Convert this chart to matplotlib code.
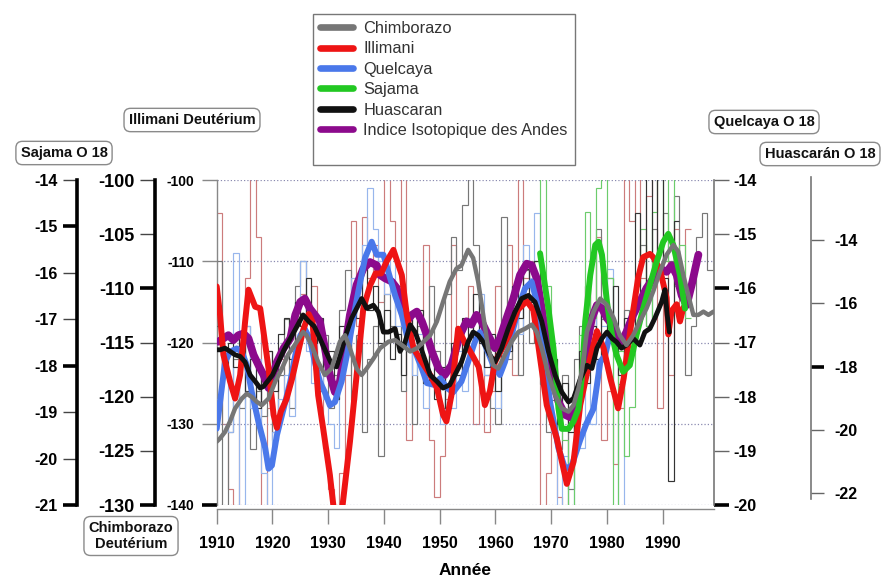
import numpy as np
import matplotlib
matplotlib.use('Agg')
import matplotlib.pyplot as plt
from matplotlib.lines import Line2D

plt.rcParams['font.family'] = ['Liberation Sans', 'DejaVu Sans']
plt.rcParams['axes.unicode_minus'] = False

# ------------------------------------------------------------------ data
# Smoothed records (thick lines), each in the units of its own axis
chim_years = [1910, 1910.6, 1911.5, 1912.4, 1913.3, 1914.5, 1915.4, 1916.3, 1917.2, 1918.1,
              1919.3, 1920.5, 1921.7, 1922.8, 1924, 1925.5, 1926.1, 1927, 1928.2, 1929.4,
              1930.6, 1932.1, 1933, 1933.9, 1935.1, 1936, 1936.9, 1938.1, 1939.3, 1940.8,
              1942, 1943.2, 1944.7, 1945.9, 1947.1, 1948.3, 1949.5, 1950.6, 1951.8, 1953,
              1953.9, 1955.1, 1956, 1956.9, 1957.8, 1958.7, 1959.6, 1960.5, 1961.7, 1962.9,
              1964.1, 1965.3, 1966.5, 1967.4, 1968.3, 1969.5, 1970.7, 1971.9, 1973.1, 1974,
              1974.9, 1975.5, 1976.4, 1977.6, 1978.8, 1980, 1981.2, 1982.3, 1983.5, 1984.7,
              1985.9, 1987.1, 1988.3, 1989.5, 1990.7, 1991.9, 1992.8, 1993.7, 1994.6, 1995.5,
              1996.4, 1997.3, 1998.2, 1999.1]
chim_vals = [-124.15, -123.85, -123.25, -122.28, -121.08, -120.18, -119.73, -120.03, -120.48, -120.78,
             -120.18, -118.60, -117.40, -116.13, -115.23, -114.03, -114.33, -115.23, -116.80, -118.00,
             -117.40, -114.93, -114.33, -115.53, -117.40, -118.00, -117.40, -116.50, -115.53, -114.93,
             -114.78, -115.23, -115.83, -115.53, -114.93, -114.33, -113.05, -111.25, -109.38, -108.18,
             -107.88, -106.45, -107.20, -109.38, -112.45, -115.53, -117.10, -117.40, -116.13, -114.93,
             -114.03, -113.73, -113.35, -114.03, -115.53, -118.00, -119.88, -121.08, -121.38, -120.78,
             -119.20, -117.63, -114.03, -112.15, -110.95, -111.55, -112.75, -114.33, -115.23, -114.33,
             -113.05, -111.85, -110.28, -108.48, -106.90, -106.00, -106.60, -108.78, -110.65, -112.45,
             -112.45, -112.15, -112.45, -112.15]

ill_years = [1910, 1910.6, 1911.2, 1912.4, 1913.3, 1914.2, 1915.1, 1915.7, 1916.9, 1917.8,
             1918.4, 1919.3, 1920.2, 1920.8, 1921.5, 1922.5, 1923.5, 1924.5, 1925.5, 1926.5,
             1927.2, 1928.2, 1929.1, 1930.3, 1931, 1932.5, 1933.9, 1935.1, 1936.3, 1937.5,
             1938.5, 1939.5, 1940.5, 1941.7, 1943.2, 1944.1, 1945.3, 1946.8, 1948.3, 1949.5,
             1950.6, 1951.2, 1952.1, 1953.3, 1954.5, 1955.8, 1957, 1958.1, 1959, 1959.9,
             1961, 1962.5, 1964, 1965.6, 1966.8, 1968, 1969.2, 1971, 1972.8, 1974,
             1975.2, 1977, 1978.2, 1979.4, 1980.6, 1982, 1983, 1984.5, 1985.6, 1986.5,
             1987.7, 1988.3, 1989.5, 1990.7, 1991, 1991.6, 1992.5, 1993.1, 1993.7]
ill_vals = [-113.1, -116.6, -121.5, -124.8, -126.9, -124.0, -117.4, -113.5, -115.6, -115.8,
            -118.7, -123.2, -128.9, -130.5, -128.5, -127.0, -124.5, -121.5, -118.5, -116.5,
            -117.5, -126.5, -130.6, -136.3, -140.5, -140.5, -132.2, -124.0, -115.8, -113.0,
            -111.5, -111.5, -110.0, -108.6, -111.7, -116.6, -120.7, -122.4, -124.0, -125.6,
            -128.9, -129.7, -126.5, -118.3, -120.0, -121.5, -123.0, -127.7, -126.0, -122.4,
            -121.0, -119.0, -116.0, -114.9, -116.0, -121.9, -127.7, -131.8, -137.4, -134.7,
            -127.7, -121.9, -118.6, -120.7, -124.4, -128.1, -124.4, -117.0, -112.0, -109.5,
            -109.1, -109.5, -111.0, -114.5, -119.0, -116.1, -115.3, -117.4, -115.7]

quel_years = [1910, 1910.6, 1911.5, 1912.4, 1913.6, 1914.5, 1915.4, 1916.3, 1917.5, 1918.7,
              1919.3, 1919.9, 1920.8, 1922, 1923.2, 1924.1, 1925, 1925.8, 1926.7, 1927.6,
              1928.5, 1929.4, 1930.3, 1931.2, 1932.4, 1933.6, 1934.5, 1935.4, 1936.6, 1937.8,
              1938.7, 1939.9, 1940.8, 1942, 1943.2, 1944.4, 1945.6, 1946.8, 1947.7, 1948.9,
              1950.1, 1951.3, 1952.4, 1953.9, 1955.1, 1956.3, 1957.2, 1958.4, 1959.6, 1960.8,
              1961.7, 1962.9, 1964.1, 1965.3, 1966.5, 1967.4, 1968.6, 1969.8, 1971.3, 1972.5,
              1973.7, 1975.2, 1976.3, 1977.6, 1978.8, 1979.7, 1980.6]
quel_vals = [-18.59, -18.10, -17.36, -17.17, -17.11, -17.17, -17.42, -17.92, -18.47, -18.95,
             -19.33, -19.27, -18.71, -18.22, -17.72, -17.23, -16.87, -16.75, -16.93, -17.36,
             -17.72, -17.92, -18.16, -18.10, -17.72, -17.11, -16.55, -16.06, -15.44, -15.14,
             -15.38, -15.38, -15.70, -16.13, -16.49, -16.99, -17.17, -17.48, -17.75, -17.78,
             -17.66, -17.84, -17.92, -17.72, -17.36, -16.99, -16.81, -17.11, -17.42, -17.60,
             -17.36, -16.87, -16.37, -16.00, -15.88, -16.25, -17.11, -18.10, -18.95, -19.33,
             -19.27, -18.80, -18.50, -18.22, -17.36, -17.23, -16.81]

saj_years = [1968, 1968.6, 1969.5, 1970.4, 1971.3, 1971.9, 1973.1, 1974, 1974.9, 1975.6,
             1976.1, 1977, 1977.9, 1978.5, 1979.1, 1980, 1980.9, 1981.7, 1982.9, 1984.1,
             1985.3, 1986.5, 1987.7, 1988.9, 1990.1, 1991, 1991.9, 1993.1, 1994]
saj_vals = [-15.58, -16.05, -16.77, -17.62, -18.92, -19.36, -19.36, -19.20, -18.92, -18.11,
            -17.05, -16.05, -15.40, -15.33, -15.61, -16.63, -17.34, -17.76, -18.13, -17.99,
            -17.34, -16.77, -16.26, -15.77, -15.33, -15.16, -15.40, -16.05, -16.77]

hua_years = [1910, 1910.6, 1911.5, 1912.4, 1913.3, 1914.2, 1915.1, 1916, 1916.9, 1917.8,
             1918.4, 1920, 1922, 1924, 1925.5, 1926.5, 1927.5, 1928.5, 1929.5, 1930.5,
             1931.5, 1932.4, 1933.2, 1934.2, 1935.1, 1936, 1936.9, 1938.1, 1939, 1939.9,
             1940.8, 1942, 1942.9, 1943.8, 1944.7, 1945.6, 1946.8, 1948.3, 1949.5, 1950.6,
             1951.8, 1953, 1953.9, 1955.1, 1956, 1956.9, 1957.8, 1959, 1959.9, 1961.1,
             1962.3, 1963.5, 1964.7, 1965.9, 1967.1, 1968.3, 1969.5, 1970.7, 1971.9, 1973.1,
             1974, 1975.2, 1976.4, 1977.3, 1978.2, 1979.1, 1980, 1980.9, 1981.7, 1982.6,
             1983.5, 1984.7, 1985.9, 1986.8, 1987.7, 1988.6, 1989.8, 1990.4, 1990.8, 1991.2]
hua_vals = [-17.47, -17.47, -17.42, -17.52, -17.63, -17.68, -17.86, -18.27, -18.47, -18.68,
            -18.63, -18.27, -17.50, -16.86, -16.37, -16.57, -16.73, -17.11, -17.50, -17.88,
            -18.01, -17.50, -16.98, -16.47, -16.16, -15.85, -16.16, -16.06, -16.27, -16.91,
            -16.91, -16.80, -17.52, -17.22, -16.68, -16.91, -17.50, -18.27, -18.47, -18.68,
            -18.58, -18.17, -17.86, -17.22, -16.91, -17.01, -17.22, -17.63, -17.86, -17.42,
            -16.80, -16.27, -15.85, -15.75, -15.96, -16.57, -17.52, -18.27, -18.81, -19.12,
            -19.01, -18.40, -17.96, -18.06, -17.42, -17.11, -16.91, -17.11, -17.22, -17.42,
            -17.32, -17.11, -17.32, -16.91, -16.80, -16.47, -15.96, -15.57, -16.37, -16.91]

andes_years = [1910.3, 1911.2, 1912.1, 1913, 1913.9, 1914.8, 1915.7, 1916.6, 1917.5, 1918.4,
               1919.3, 1919.9, 1920.8, 1922, 1923.2, 1924.1, 1925, 1925.8, 1926.7, 1927.6,
               1928.5, 1929.4, 1930.3, 1931.2, 1932.1, 1933, 1933.9, 1935.1, 1936.3, 1937.5,
               1938.7, 1939.3, 1940.2, 1941.4, 1942.3, 1943.2, 1944.1, 1945, 1945.9, 1946.8,
               1947.7, 1948.6, 1949.8, 1950.9, 1952.1, 1953.3, 1953.9, 1954.8, 1955.7, 1956.6,
               1957.5, 1958.7, 1959.9, 1960.8, 1962, 1963.2, 1964.4, 1965.6, 1966.5, 1967.4,
               1968.3, 1969.2, 1970.1, 1971.3, 1972.5, 1973.7, 1974.9, 1975.6, 1976.3, 1977.3,
               1978.2, 1979.1, 1980, 1980.9, 1981.7, 1982.6, 1983.5, 1984.7, 1985.9, 1987.1,
               1988.3, 1989.5, 1990.7, 1991.6, 1992.5, 1993.4, 1994.3, 1995.2, 1996.1, 1996.4]
andes_vals = [-119.9, -119.5, -119.1, -119.7, -119.1, -118.9, -119.5, -121.5, -122.8, -124.0,
              -125.6, -124.4, -122.4, -120.7, -119.5, -116.6, -115.0, -114.6, -115.8, -116.6,
              -117.4, -120.7, -124.0, -126.1, -124.8, -120.7, -116.6, -112.9, -110.9, -110.1,
              -110.5, -111.7, -112.1, -112.5, -113.3, -115.8, -117.4, -116.6, -116.2, -117.4,
              -119.1, -121.1, -123.2, -124.0, -122.8, -119.9, -118.7, -117.4, -117.8, -116.6,
              -117.4, -119.1, -120.7, -119.5, -117.0, -114.6, -111.7, -110.3, -110.5, -112.1,
              -115.8, -119.9, -124.0, -127.3, -128.9, -129.3, -127.3, -124.5, -120.7, -117.0,
              -115.4, -115.8, -117.0, -117.8, -119.1, -119.9, -118.7, -116.6, -115.0, -113.3,
              -112.1, -110.9, -111.3, -110.5, -111.7, -114.2, -115.4, -112.9, -110.1, -109.2]

# Annual records (thin step lines): first year + one value per year
chim_ann_start = 1910
chim_ann = [-107.5, -131.0, -123.3, -116.5, -121.0, -113.5, -124.8, -119.5, -121.8, -115.8,
            -124.0, -118.0, -112.8, -121.0, -109.8, -107.5, -112.0, -115.8, -119.5, -114.3,
            -121.0, -118.0, -112.0, -108.3, -120.3, -114.3, -123.3, -116.5, -113.5, -125.5,
            -110.5, -113.5, -109.8, -119.5, -112.8, -122.5, -113.5, -118.0, -109.8, -115.8,
            -121.0, -110.5, -105.3, -108.3, -102.3, -99.3, -106.0, -113.5, -118.0, -121.0,
            -122.5, -103.4, -116.5, -112.0, -118.0, -108.3, -115.0, -109.0, -118.8, -123.3,
            -120.3, -124.8, -118.0, -128.5, -116.5, -113.5, -109.8, -115.0, -104.5, -112.8,
            -109.0, -115.8, -118.8, -112.0, -115.0, -109.8, -106.0, -113.5, -104.5, -108.3,
            -103.0, -107.5, -101.5, -109.8, -118.0, -113.5, -105.3, -103.0, -108.3]

ill_ann_start = 1910
ill_ann = [-104, -130, -138, -142, -121, -112, -98, -107, -142, -128,
           -131, -122, -126, -121, -118, -114, -117, -113, -125, -133,
           -138, -142, -136, -124, -105, -118, -104.5, -112, -108, -115,
           -97, -105, -110, -97, -132, -121, -117, -108, -132, -139,
           -134, -127, -108, -124, -118, -113, -130, -120, -131, -126,
           -113, -118, -108, -124, -97, -112, -110, -120, -142, -136,
           -131, -139, -142, -128, -133, -124, -113, -119, -107, -132,
           -126, -135, -128, -97, -105, -97, -112, -102, -97, -128,
           -110, -124, -106, -116, -106]

quel_ann_start = 1910
quel_ann = [-18.05, -17.60, -18.65, -15.35, -20.10, -16.70, -18.20, -17.30, -19.40, -20.10,
            -18.65, -18.05, -17.60, -18.35, -16.25, -15.50, -17.15, -17.75, -16.85, -18.05,
            -18.50, -18.95, -17.60, -16.70, -15.80, -15.95, -15.20, -14.15, -14.90, -15.50,
            -16.10, -15.35, -16.70, -16.55, -17.15, -17.60, -16.85, -18.20, -17.30, -17.90,
            -18.50, -17.45, -18.20, -17.15, -17.90, -16.55, -16.85, -16.10, -17.60, -17.00,
            -18.20, -17.15, -16.40, -15.95, -16.85, -15.20, -15.80, -14.60, -17.30, -18.05,
            -18.65, -20.10, -19.10, -20.15, -17.90, -18.95, -17.60, -18.50, -16.25, -16.70,
            -15.65, -18.05, -20.15, -16.85]

saj_ann_start = 1967
saj_ann = [-15.75, -13.48, -16.28, -17.85, -18.90, -19.60, -21.35, -18.55, -17.33, -14.70,
           -16.98, -14.18, -13.48, -16.10, -21.35, -17.68, -19.95, -18.90, -16.28, -15.05,
           -17.15, -14.70, -13.48, -15.75, -13.48, -16.28, -15.40, -16.98]

hua_ann_start = 1910
hua_ann = [-16.73, -18.27, -17.24, -18.01, -16.98, -18.78, -17.75, -19.30, -18.27, -17.50,
           -18.78, -16.98, -16.47, -17.75, -15.96, -16.73, -15.19, -17.24, -16.47, -18.27,
           -17.50, -19.04, -16.73, -17.50, -15.70, -16.47, -14.93, -16.21, -15.44, -17.24,
           -16.21, -17.75, -16.98, -18.27, -16.47, -17.50, -16.21, -18.53, -17.50, -19.04,
           -18.01, -19.30, -17.24, -18.27, -16.47, -17.50, -15.70, -17.24, -18.01, -16.98,
           -18.78, -16.73, -17.50, -15.44, -16.47, -14.93, -15.96, -14.67, -16.98, -18.27,
           -17.75, -19.81, -18.53, -20.07, -18.78, -17.50, -18.53, -16.73, -17.75, -16.21,
           -17.24, -15.44, -18.27, -16.47, -17.50, -13.13, -15.70, -11.33, -14.67, -11.33,
           -15.19, -21.61, -13.39]

x_ticks = [1910, 1920, 1930, 1940, 1950, 1960, 1970, 1980, 1990]
names = ['Chimborazo', 'Illimani', 'Quelcaya', 'Sajama', 'Huascaran',
         'Indice Isotopique des Andes']

# ------------------------------------------------------------------ figure
W, H = 883, 579
fig = plt.figure(figsize=(W / 100, H / 100), dpi=100)
PL, PR, PT, PB = 216.7, 714.0, 180.0, 505.0
ax = fig.add_axes([PL / W, 1 - PB / H, (PR - PL) / W, (PB - PT) / H])
XL = (1910, 1999.2)

LIM_I = (-140, -100)
LIM_C = (-130, -100)
LIM_Q = (-20, -14)
LIM_S = (-21, -14)
LIM_H = (-22.38, -12.10)


def twin(lim):
    t = ax.twinx()
    for s in t.spines.values():
        s.set_visible(False)
    t.tick_params(axis='y', which='both', left=False, right=False,
                  labelleft=False, labelright=False)
    t.set_ylim(*lim)
    return t


def stairs(a, start, vals, color):
    edges = np.arange(start, start + len(vals) + 1)
    a.stairs(vals, edges, baseline=None, color=color, lw=0.85)


# thin annual step lines
stairs(ax, ill_ann_start, ill_ann, '#cc7c7c')
t_c = twin(LIM_C)
stairs(t_c, chim_ann_start, chim_ann, '#777777')
t_q = twin(LIM_Q)
stairs(t_q, quel_ann_start, quel_ann, '#98b6ec')
t_s = twin(LIM_S)
stairs(t_s, saj_ann_start, saj_ann, '#6ccc6c')
t_h = twin(LIM_H)
stairs(t_h, hua_ann_start, hua_ann, '#333333')

# thick smoothed curves
k_m = twin(LIM_I)
l_andes, = k_m.plot(andes_years, andes_vals, color='#8c0a8c', lw=5.6,
                    solid_capstyle='round', label=names[5])
k_q = twin(LIM_Q)
l_quel, = k_q.plot(quel_years, quel_vals, color='#4a78ea', lw=4.3,
                   solid_capstyle='round', label=names[2])
k_i = twin(LIM_I)
l_ill, = k_i.plot(ill_years, ill_vals, color='#ee1414', lw=4.3,
                  solid_capstyle='round', label=names[1])
k_s = twin(LIM_S)
l_saj, = k_s.plot(saj_years, saj_vals, color='#22c822', lw=4.3,
                  solid_capstyle='round', label=names[3])
k_h = twin(LIM_H)
l_hua, = k_h.plot(hua_years, hua_vals, color='#111111', lw=3.5,
                  solid_capstyle='round', label=names[4])
k_c = twin(LIM_C)
l_chim, = k_c.plot(chim_years, chim_vals, color='#767676', lw=3.2,
                   solid_capstyle='round', label=names[0])

ax.set_xlim(*XL)
ax.set_ylim(*LIM_I)


def decorate(t, side, pos, thick, thin, size, spine_lw, spine_col,
             tlen, pad, bounds=None, thin_col='#666666'):
    sp = t.spines[side]
    sp.set_visible(True)
    sp.set_position(('axes', pos))
    sp.set_linewidth(spine_lw)
    sp.set_color(spine_col)
    if bounds is not None:
        sp.set_bounds(*bounds)
    t.yaxis.set_ticks_position(side)
    t.set_yticks(thick, labels=[f'{v:g}' for v in thick],
                 fontsize=size, fontweight='bold')
    t.set_yticks(thin, labels=[f'{v:g}' for v in thin], minor=True,
                 fontsize=size, fontweight='bold')
    t.tick_params(axis='y', which='major', direction='out', length=tlen,
                  width=2.6, color='black', pad=pad)
    t.tick_params(axis='y', which='minor', direction='out', length=tlen,
                  width=1.0, color=thin_col, pad=pad)


# Sajama O18 (outer left)
decorate(k_s, 'left', (77 - PL) / (PR - PL), [-15, -18, -21],
         [-14, -16, -17, -19, -20], 11.5, 2.6, 'black', 10, 4,
         thin_col='#444444')
# Chimborazo deuterium
decorate(k_c, 'left', (155 - PL) / (PR - PL), [-110, -130],
         [-100, -105, -115, -120, -125], 13, 2.6, 'black', 11, 4,
         thin_col='#444444')
# Quelcaya O18 (right)
decorate(k_q, 'right', 1.0, [-16, -20], [-14, -15, -17, -18, -19],
         11.5, 1.2, '#777777', 11, 3)
# Huascaran O18 (outer right)
decorate(k_h, 'right', (811 - PL) / (PR - PL), [-18], [-14, -16, -20, -22],
         11.5, 1.2, '#777777', 9.5, 7, bounds=(-22.2, -12.0))

# main (Illimani deuterium) axis
for s in ['top', 'right']:
    ax.spines[s].set_visible(False)
ax.spines['left'].set_color('#888888')
ax.spines['left'].set_linewidth(1.0)
ax.spines['bottom'].set_position(('outward', 3))
ax.spines['bottom'].set_color('#888888')
ax.spines['bottom'].set_linewidth(1.0)
ax.yaxis.set_ticks_position('left')
ax.set_yticks([-140], labels=['-140'], fontsize=10, fontweight='bold')
ax.set_yticks([-100, -110, -120, -130], labels=['-100', '-110', '-120', '-130'],
              minor=True, fontsize=10, fontweight='bold')
ax.tick_params(axis='y', which='major', direction='out', length=11, width=2.6,
               color='black', pad=5)
ax.tick_params(axis='y', which='minor', direction='out', length=11, width=1.0,
               color='#888888', pad=5)
ax.yaxis.grid(True, which='both', linestyle=':', color='#8a8ab0', lw=0.9)
ax.set_xticks(x_ticks, labels=[str(v) for v in x_ticks], fontsize=11.5,
              fontweight='bold')
ax.tick_params(axis='x', direction='out', length=11, width=1.0,
               color='#888888', pad=8)
ax.set_xlabel('Année', fontsize=12.5, fontweight='bold', labelpad=9)

# axis title boxes
box = dict(boxstyle='round,pad=0.32,rounding_size=0.45', fc='white',
           ec='#8a8a8a', lw=1.0)


def label_box(x, y, s):
    fig.text(x / W, 1 - y / H, s, ha='center', va='center', fontsize=10.5,
             fontweight='bold', color='#111111', bbox=box, linespacing=1.15)


label_box(192, 120, 'Illimani Deutérium')
label_box(64, 153, 'Sajama O 18')
label_box(131, 536, 'Chimborazo\nDeutérium')
label_box(764, 122, 'Quelcaya O 18')
label_box(820, 154, 'Huascarán O 18')

# legend
blank = Line2D([], [], color='none', label=' ')
leg = fig.legend(handles=[l_chim, l_ill, l_quel, l_saj, l_hua, l_andes, blank],
                 loc='upper left', bbox_to_anchor=(313 / W, 1 - 14 / H),
                 borderaxespad=0, frameon=True, fancybox=False,
                 edgecolor='#555555', fontsize=11.8, handlelength=2.0,
                 handletextpad=0.65, labelspacing=0.33, borderpad=0.42,
                 labelcolor='#333333')
leg.get_frame().set_linewidth(1.0)
for h in leg.legend_handles[:6]:
    h.set_linewidth(4.8)

fig.savefig('out.png', dpi=100)
